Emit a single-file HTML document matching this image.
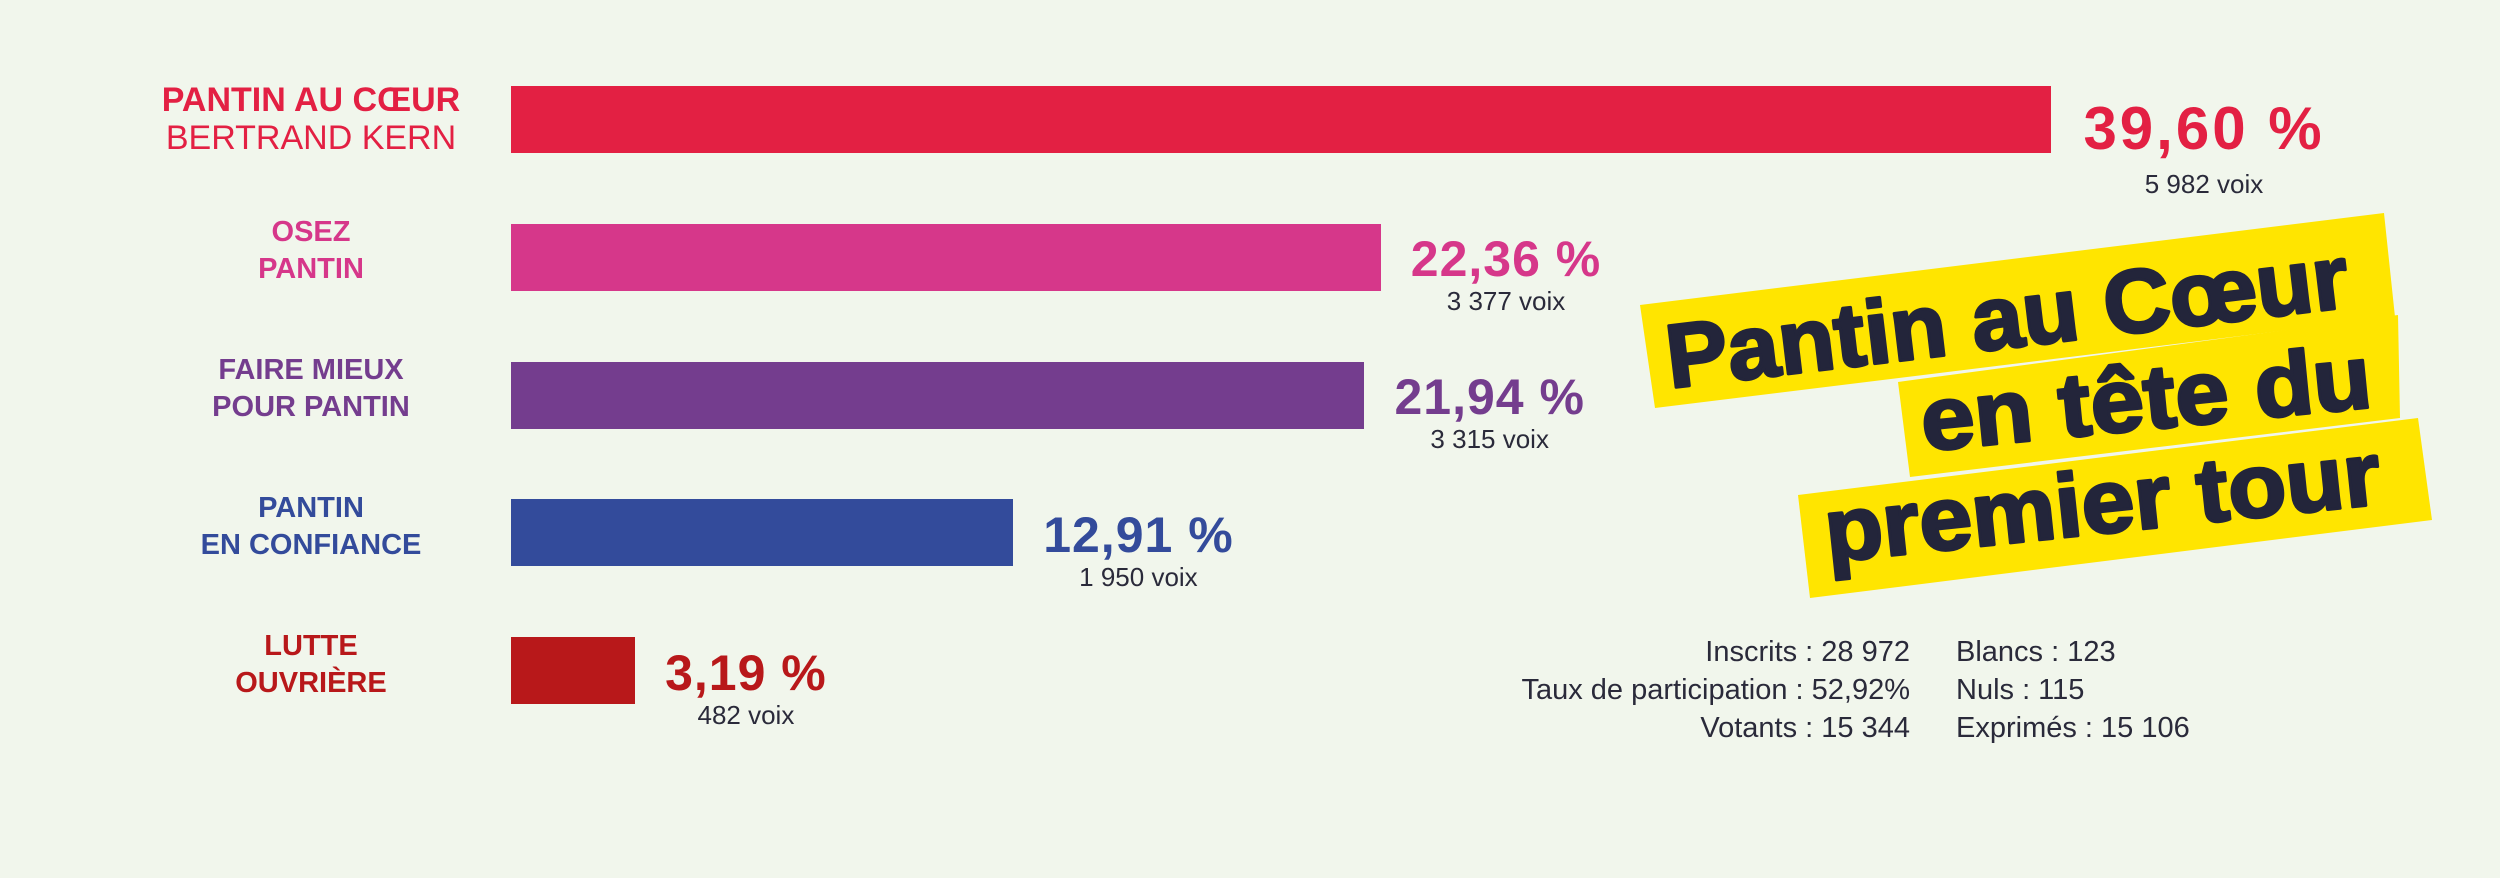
<!DOCTYPE html>
<html><head><meta charset="utf-8">
<style>
html,body{margin:0;padding:0}
body{width:2500px;height:878px;background:#f1f6ec;position:relative;overflow:hidden;font-family:"Liberation Sans",sans-serif}
.lbl{position:absolute;width:420px;left:101px;text-align:center;font-weight:bold}
.val{position:absolute;display:flex;flex-direction:column;align-items:center}
.pct{font-weight:bold;white-space:nowrap}
.vx{font-size:26px;color:#2a2a3a;line-height:30px;white-space:nowrap}
.stats{position:absolute;font-size:29px;color:#2a2a3a;line-height:38px;white-space:nowrap}
.hl{font-family:"Liberation Sans",sans-serif;font-weight:bold;font-size:90px;fill:#23253a;stroke:#23253a;stroke-width:3;stroke-linejoin:round}
</style></head>
<body>
<svg id="banner" width="2500" height="878" style="position:absolute;left:0;top:0">
  <polygon points="1640,305 2384,213 2395,317 1655,408" fill="#ffe500"/>
  <polygon points="1898,382 2398,315 2400,418 1910,477" fill="#ffe500"/>
  <polygon points="1798,495 2418,418 2432,520 1810,598" fill="#ffe500"/>
  <text class="hl" x="1670" y="388" transform="rotate(-6.8 1670 388)" textLength="686" lengthAdjust="spacingAndGlyphs">Pantin au Cœur</text>
  <text class="hl" x="1924" y="451" transform="rotate(-5.6 1924 451)" textLength="452" lengthAdjust="spacingAndGlyphs">en tête du</text>
  <text class="hl" x="1828" y="562" transform="rotate(-6 1828 562)" textLength="558" lengthAdjust="spacingAndGlyphs">premier tour</text>
</svg>
<div id="chart"></div>
<div class="stats" style="right:590px;top:633px;text-align:right">
  <div>Inscrits : 28 972</div>
  <div>Taux de participation : 52,92%</div>
  <div>Votants : 15 344</div>
</div>
<div class="stats" style="left:1956px;top:633px">
  <div>Blancs : 123</div>
  <div>Nuls : 115</div>
  <div>Exprimés : 15 106</div>
</div>
<script>
const labelsLine1 = ["PANTIN AU CŒUR","OSEZ","FAIRE MIEUX","PANTIN","LUTTE"];
const labelsLine2 = ["BERTRAND KERN","PANTIN","POUR PANTIN","EN CONFIANCE","OUVRIÈRE"];
const percents = [39.60, 22.36, 21.94, 12.91, 3.19];
const votes = ["5 982","3 377","3 315","1 950","482"];
const colors = ["#e32043","#d6378a","#743d8e","#334b9b","#b8181a"];

const X0 = 511, PX = 38.9, Y0 = 86, STEP = 137.8, H = 67;
function xScale(v){ return X0 + v*PX; }
function yScale(i){ return Y0 + i*STEP; }
const chart = document.getElementById('chart');
percents.forEach((p,i)=>{
  const y = yScale(i), xe = xScale(p);
  const bar = document.createElement('div');
  
  
  bar.style.cssText = `position:absolute;left:${X0}px;top:${y}px;width:${xe-X0}px;height:${H}px;background:${colors[i]}`;
  chart.appendChild(bar);

  const lbl = document.createElement('div');
  
  
  lbl.className = 'lbl';
  const cy = y + H/2;
  if(i===0){
    lbl.style.cssText = `top:${cy-39}px;color:${colors[i]};font-size:34px;line-height:38px`;
    lbl.innerHTML = `<div>${labelsLine1[i]}</div><div style="font-weight:normal">${labelsLine2[i]}</div>`;
  } else {
    lbl.style.cssText = `top:${cy-43}px;color:${colors[i]};font-size:29px;line-height:37px`;
    lbl.innerHTML = `<div>${labelsLine1[i]}</div><div>${labelsLine2[i]}</div>`;
  }
  chart.appendChild(lbl);

  const val = document.createElement('div');
  
  
  val.className = 'val';
  const big = i===0;
  const fs = big ? 60 : 50;
  const pctCenter = cy + (big ? 9 : 2);
  val.style.cssText = `left:${xe+(big?32:30)}px;top:${pctCenter-fs*0.58}px`;
  const pctTxt = p.toFixed(2).replace('.', ',') + ' %';
  val.innerHTML = `<div class="pct" style="color:${colors[i]};font-size:${fs}px;line-height:${fs*1.16}px;letter-spacing:${big?3:1}px">${pctTxt}</div><div class="vx" style="margin-top:${big?6:-2}px">${votes[i]} voix</div>`;
  chart.appendChild(val);
});
</script>
</body></html>
